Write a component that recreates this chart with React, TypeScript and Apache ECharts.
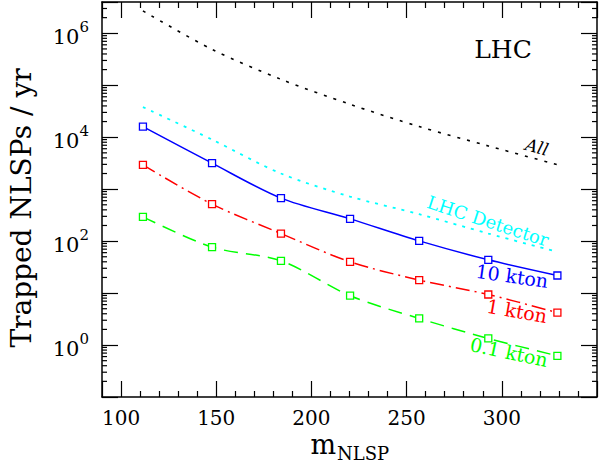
import React, { useEffect, useRef } from "react";
import * as echarts from "echarts";

// ---- data ----
const masses = [111.5, 147.8, 184.0, 220.3, 256.6, 292.9, 329.2];
const allNLSP = [2.7e6, 4.9e5, 1.3e5, 4.3e4, 1.6e4, 6.8e3, 2.95e3];
const lhcDetector = [3.8e4, 9.0e3, 2.0e3, 720, 330, 140, 62];
const kton10 = [1.6e4, 3160, 671, 268, 101, 43.7, 21.8];
const kton1 = [2930, 515, 140, 40, 17.8, 9.4, 4.2];
const kton01 = [293, 76.7, 41.8, 8.9, 3.25, 1.34, 0.62];
const yLabelExponents = [0, 2, 4, 6];

const X_MIN = 90;
const X_MAX = 350;
const Y_MIN = 0.1;
const Y_MAX = 4e6;
const FONT = "DejaVu Serif";

const minorTickValues: number[] = [];
for (let k = -1; k <= 6; k++) {
  for (let m = 2; m <= 9; m++) {
    const v = m * Math.pow(10, k);
    if (v < Y_MAX) minorTickValues.push(v);
  }
}

const pairs = (arr: number[]) => masses.map((m, i) => [m, arr[i]]);

export default function App() {
  const ref = useRef<HTMLDivElement>(null);
  useEffect(() => {
    if (!ref.current) return;
    const chart = echarts.init(ref.current, undefined, { renderer: "svg" });

    const axisLine = { show: true, lineStyle: { color: "#000", width: 1.5 } };
    const xCommon = {
      type: "value" as const,
      min: X_MIN,
      max: X_MAX,
      axisLine,
      splitLine: { show: false },
      axisTick: { show: true, inside: true, length: 16, lineStyle: { color: "#000", width: 1.2 } },
      minorTick: { show: true, splitNumber: 5, length: 6, lineStyle: { color: "#000", width: 1.2 } },
    };
    const yCommon = {
      type: "log" as const,
      logBase: 10,
      min: Y_MIN,
      max: Y_MAX,
      axisLine,
      splitLine: { show: false },
      axisTick: { show: true, inside: true, length: 16, lineStyle: { color: "#000", width: 1.2 } },
    };

    const markerSeries = (name: string, data: number[], color: string, dash: any) => ({
      name,
      type: "line" as const,
      data: pairs(data),
      smooth: 0.3,
      symbol: "rect",
      symbolSize: 7,
      showSymbol: true,
      lineStyle: { color, width: 1.5, type: dash },
      itemStyle: { color: "#fff", borderColor: color, borderWidth: 1.3 },
    });

    const rot = (deg: number) => (-deg * Math.PI) / 180;
    const label = (text: string, x: number, y: number, deg: number, color: string, size: number, italic = false) => ({
      type: "text" as const,
      x,
      y,
      rotation: rot(deg),
      style: {
        text,
        fill: color,
        font: `${italic ? "italic " : ""}${size}px '${FONT}'`,
        align: "center",
        verticalAlign: "middle",
      },
    });

    chart.setOption({
      animation: false,
      backgroundColor: "#fff",
      grid: { left: 102, right: 2, top: 2, bottom: 65, containLabel: false },
      xAxis: [
        {
          ...xCommon,
          position: "bottom",
          axisLabel: {
            show: true,
            showMinLabel: false,
            showMaxLabel: false,
            margin: 11,
            color: "#000",
            fontFamily: FONT,
            fontSize: 20,
          },
        },
        { ...xCommon, position: "top", axisLabel: { show: false } },
      ],
      yAxis: [
        {
          ...yCommon,
          position: "left",
          axisLabel: {
            show: true,
            margin: 13,
            color: "#000",
            formatter: (v: number) => {
              const e = Math.round(Math.log10(v));
              if (Math.abs(Math.log10(v) - e) > 1e-6) return "";
              if (!yLabelExponents.includes(e)) return "";
              return `{b|10}{s|${e}}`;
            },
            rich: {
              b: { fontFamily: FONT, fontSize: 21, color: "#000", verticalAlign: "bottom", lineHeight: 28 },
              s: { fontFamily: FONT, fontSize: 15, color: "#000", verticalAlign: "top", lineHeight: 28 },
            },
          },
        },
        { ...yCommon, position: "right", axisLabel: { show: false } },
      ],
      series: [
        {
          name: "All",
          type: "line",
          data: pairs(allNLSP),
          smooth: 0.3,
          showSymbol: false,
          symbol: "none",
          lineStyle: { color: "#000", width: 1.6, type: [3, 7] },
        },
        {
          name: "LHC Detector",
          type: "line",
          data: pairs(lhcDetector),
          smooth: 0.3,
          showSymbol: false,
          symbol: "none",
          lineStyle: { color: "#00ffff", width: 1.8, type: [3, 6] },
        },
        markerSeries("10 kton", kton10, "#0000ff", "solid"),
        markerSeries("1 kton", kton1, "#ff0000", [14, 5, 2, 5]),
        markerSeries("0.1 kton", kton01, "#00ff00", [14, 8]),
        {
          name: "minorTicks",
          type: "custom",
          coordinateSystem: "cartesian2d",
          silent: true,
          clip: false,
          data: minorTickValues.map((v) => [X_MIN, v]),
          renderItem: (params: any, api: any) => {
            const cs = params.coordSys;
            const y = api.coord([X_MIN, api.value(1)])[1];
            const st = { stroke: "#000", lineWidth: 1.2 };
            return {
              type: "group",
              children: [
                { type: "line", shape: { x1: cs.x, y1: y, x2: cs.x + 5, y2: y }, style: st },
                { type: "line", shape: { x1: cs.x + cs.width - 5, y1: y, x2: cs.x + cs.width, y2: y }, style: st },
              ],
            };
          },
        },
      ],
      graphic: [
        label("LHC", 503, 49, 0, "#000", 25),
        label("All", 537, 147, 15, "#000", 17, true),
        label("LHC Detector", 488, 221, 18, "#00ffff", 18),
        label("10 kton", 512, 276, 8, "#0000ff", 19),
        label("1 kton", 517, 311, 10, "#ff0000", 19),
        label("0.1 kton", 509, 352, 12, "#00ff00", 19),
        {
          type: "text",
          x: 21,
          y: 208,
          rotation: Math.PI / 2,
          style: {
            text: "Trapped NLSPs / yr",
            fill: "#000",
            font: `28px '${FONT}'`,
            align: "center",
            verticalAlign: "middle",
          },
        },
        {
          type: "text",
          x: 336,
          y: 444,
          style: { text: "m", fill: "#000", font: `27px '${FONT}'`, align: "right", verticalAlign: "middle" },
        },
        {
          type: "text",
          x: 337,
          y: 453,
          style: { text: "NLSP", fill: "#000", font: `18px '${FONT}'`, align: "left", verticalAlign: "middle" },
        },
      ],
    });

    return () => chart.dispose();
  }, []);

  return <div ref={ref} style={{ position: "absolute", left: 0, top: 0, width: 599, height: 462 }} />;
}
